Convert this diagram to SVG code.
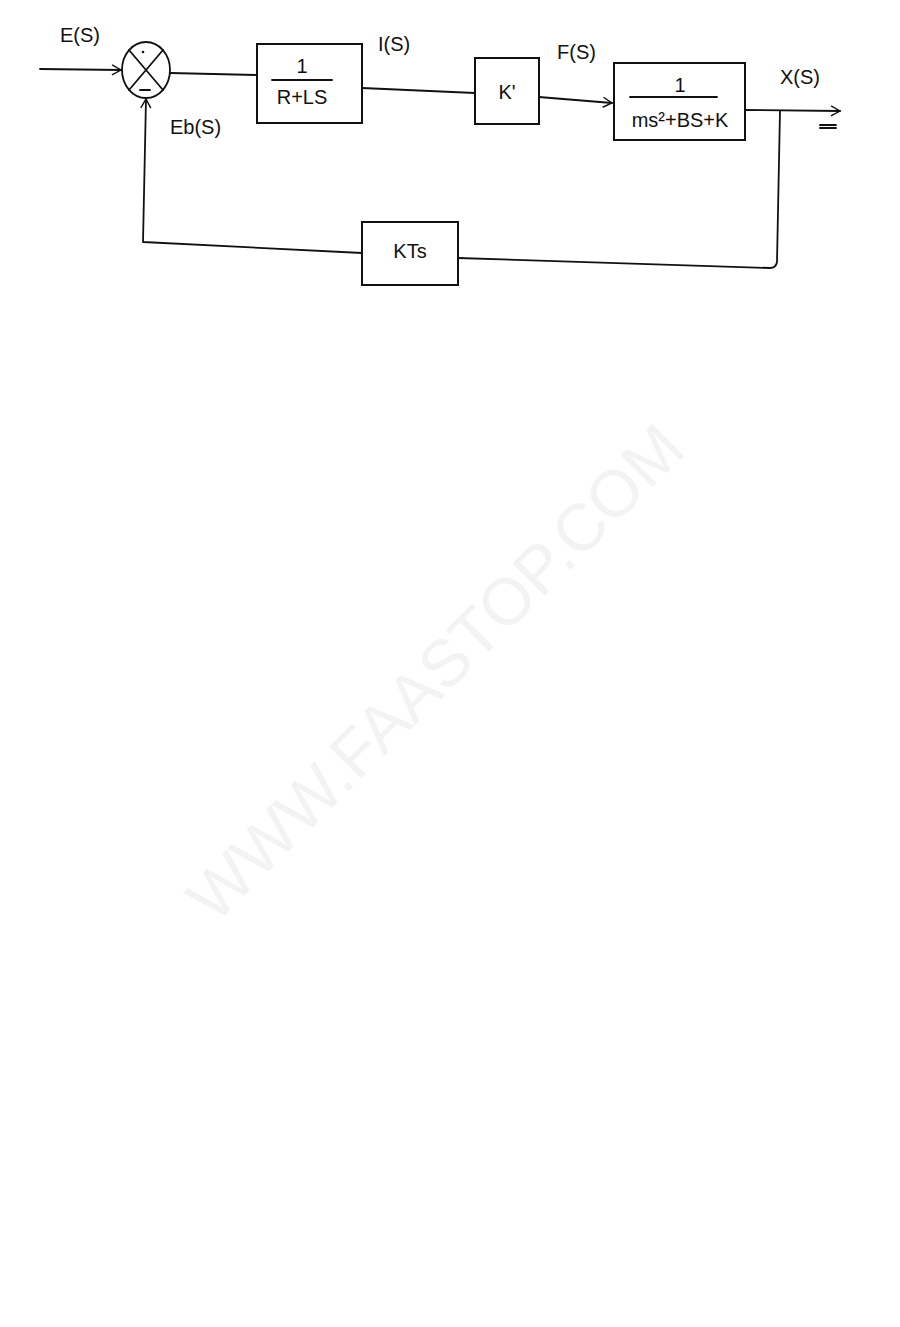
<svg xmlns="http://www.w3.org/2000/svg" width="900" height="1327" viewBox="0 0 900 1327">
<defs>
<marker id="arr" markerWidth="12" markerHeight="12" refX="10" refY="6" orient="auto" markerUnits="userSpaceOnUse">
<path d="M1,1 L10,6 L1,11" fill="none" stroke="#111" stroke-width="1.4"/>
</marker>
<style>
.ln{fill:none;stroke:#111;stroke-width:1.8;stroke-linecap:round;stroke-linejoin:round}
.bx{fill:none;stroke:#111;stroke-width:2}
.t{font-family:"Liberation Sans",Arial,sans-serif;fill:#111;font-size:20px}
.wm{font-family:"Liberation Sans",Arial,sans-serif;fill:#f3f3f3;font-size:66px}
</style>
</defs>
<rect width="900" height="1327" fill="#ffffff"/>
<text class="wm" transform="translate(215,925) rotate(-45)">WWW.FAASTOP.COM</text>
<g id="connectors">
<path class="ln" d="M40,69 L121,70" marker-end="url(#arr)"/>
<path class="ln" d="M170,73 L257,75"/>
<path class="ln" d="M362,88 L475,93"/>
<path class="ln" d="M539,97 L612,103" marker-end="url(#arr)"/>
<path class="ln" d="M745,110 L840,111" marker-end="url(#arr)"/>
<path class="ln" d="M780,111 L777,262 Q776,268 770,268 L458,258"/>
<path class="ln" d="M362,253 L143,242 L146,99" marker-end="url(#arr)"/>
<path class="ln" d="M820,125 L836,125 M820,128 L836,128" stroke-width="1.2"/>
</g>
<g id="summer">
<ellipse cx="146" cy="70" rx="24" ry="28" class="ln"/>
<path class="ln" d="M129,50 L163,90 M163,50 L129,90"/>
<circle cx="143" cy="52" r="1.3" fill="#111"/>
<path class="ln" d="M140,90 L150,90"/>
</g>
<g id="block1">
<rect x="257" y="44" width="105" height="79" class="bx"/>
<text class="t" x="302" y="73" text-anchor="middle">1</text>
<path class="ln" d="M272,80 L332,80"/>
<text class="t" x="302" y="104" text-anchor="middle">R+LS</text>
</g>
<g id="blockK">
<rect x="475" y="58" width="64" height="66" class="bx"/>
<text class="t" x="507" y="99" text-anchor="middle">K'</text>
</g>
<g id="block3">
<rect x="614" y="63" width="131" height="77" class="bx"/>
<text class="t" x="680" y="92" text-anchor="middle">1</text>
<path class="ln" d="M630,97 L717,97"/>
<text class="t" x="680" y="127" text-anchor="middle">ms²+BS+K</text>
</g>
<g id="blockKTs">
<rect x="362" y="222" width="96" height="63" class="bx"/>
<text class="t" x="410" y="258" text-anchor="middle">KTs</text>
</g>
<g id="labels">
<text class="t" x="60" y="42">E(S)</text>
<text class="t" x="170" y="134">Eb(S)</text>
<text class="t" x="378" y="51">I(S)</text>
<text class="t" x="557" y="59">F(S)</text>
<text class="t" x="780" y="84">X(S)</text>
</g>
</svg>
